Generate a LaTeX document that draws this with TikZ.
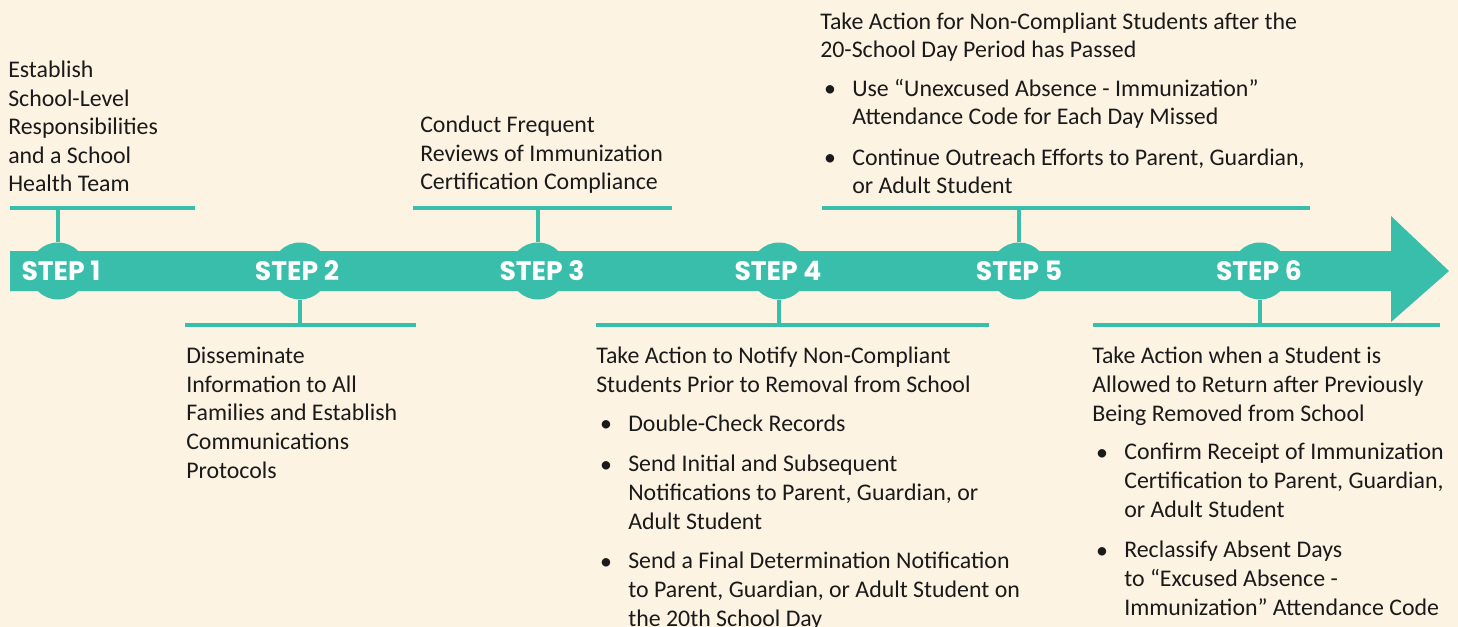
\documentclass[tikz,border=0pt]{standalone}
\usepackage{fontspec}
\usepackage{xcolor}
\usepackage{tikz}
\setmainfont{Carlito}
\newfontfamily\stepfont{Poppins}
\definecolor{stepteal}{RGB}{57,190,172}
\definecolor{cream}{RGB}{253,243,227}
\definecolor{inkgray}{RGB}{26,26,26}

\begin{document}
\begin{tikzpicture}[x=0.75pt,y=0.75pt,yscale=-1,xscale=1,
  stepdot/.style={circle,fill=stepteal,minimum size=42.75pt,inner sep=0pt},
  steplbl/.style={font=\stepfont\bfseries\fontsize{20}{20}\selectfont,text=white,inner sep=0.75pt},
  rulebar/.style={draw=stepteal,line width=3.4pt},
  blurb/.style={anchor=base west,align=left,inner sep=0pt,text=inkgray,font=\fontsize{17.9}{21.4}\selectfont},
  bul/.style={anchor=base,inner sep=0pt,text=inkgray,font=\fontsize{17.9}{21.4}\selectfont}]
%set diagram size
\useasboundingbox (0,0) rectangle (1458,627);
\fill[cream] (0,0) rectangle (1458,627);

%Arrow band
\fill[stepteal] (10,251) -- (1391,251) -- (1391,216) -- (1449,271) -- (1391,322) -- (1391,291) -- (10,291) -- cycle;

%Step circles
\node[stepdot] (s1) at (58,271) {};
\node[stepdot] (s2) at (300,271) {};
\node[stepdot] (s3) at (538,271) {};
\node[stepdot] (s4) at (779,271) {};
\node[stepdot] (s5) at (1019,271) {};
\node[stepdot] (s6) at (1260,271) {};

% Step labels
\node[steplbl] (t1) at (61,271) {STEP 1};
\node[steplbl] (t2) at (297,271) {STEP 2};
\node[steplbl] (t3) at (542,271) {STEP 3};
\node[steplbl] (t4) at (778,271) {STEP 4};
\node[steplbl] (t5) at (1019,271) {STEP 5};
\node[steplbl] (t6) at (1259,271) {STEP 6};

%Rules above and below
\coordinate (r1a) at (10,208);   \coordinate (r1b) at (195,208);  \coordinate (k1) at (58,208);
\coordinate (r2a) at (185,325);  \coordinate (r2b) at (416,325);  \coordinate (k2) at (300,325);
\coordinate (r3a) at (413,208);  \coordinate (r3b) at (672,208);  \coordinate (k3) at (538,208);
\coordinate (r4a) at (596,325);  \coordinate (r4b) at (989,325);  \coordinate (k4) at (779,325);
\coordinate (r5a) at (822,208);  \coordinate (r5b) at (1310,208); \coordinate (k5) at (1019,208);
\coordinate (r6a) at (1093,325); \coordinate (r6b) at (1440,325); \coordinate (k6) at (1260,325);
\draw[rulebar] (r1a) -- (r1b);
\draw[rulebar] (r2a) -- (r2b);
\draw[rulebar] (r3a) -- (r3b);
\draw[rulebar] (r4a) -- (r4b);
\draw[rulebar] (r5a) -- (r5b);
\draw[rulebar] (r6a) -- (r6b);
\draw[rulebar] (s1) -- (k1);
\draw[rulebar] (s2) -- (k2);
\draw[rulebar] (s3) -- (k3);
\draw[rulebar] (s4) -- (k4);
\draw[rulebar] (s5) -- (k5);
\draw[rulebar] (s6) -- (k6);

% Text Node (placed at baseline of last line)
\node[blurb] (b1) at (8,192) {Establish\\School-Level\\Responsibilities\\and a School\\Health Team};
% Text Node
\node[blurb] (b2) at (186,478) {Disseminate\\Information to All\\Families and Establish\\Communications\\Protocols};
% Text Node
\node[blurb] (b3) at (420,190) {Conduct Frequent\\Reviews of Immunization\\Certification Compliance};
% Text Node
\node[blurb] (b4) at (596,392) {Take Action to Notify Non-Compliant\\Students Prior to Removal from School};
\node[bul] (d4a) at (606,431) {•};
\node[blurb] (i4a) at (628,431) {Double-Check Records};
\node[bul] (d4b) at (606,472) {•};
\node[blurb] (i4b) at (628,529) {Send Initial and Subsequent\\Notifications to Parent, Guardian, or\\Adult Student};
\node[bul] (d4c) at (606,569) {•};
\node[blurb] (i4c) at (628,626) {Send a Final Determination Notification\\to Parent, Guardian, or Adult Student on\\the 20th School Day};
% Text Node
\node[blurb] (b5) at (820,58) {Take Action for Non-Compliant Students after the\\20-School Day Period has Passed};
\node[bul] (d5a) at (830,97) {•};
\node[blurb] (i5a) at (852,125) {Use “Unexcused Absence - Immunization”\\Attendance Code for Each Day Missed};
\node[bul] (d5b) at (830,166) {•};
\node[blurb] (i5b) at (852,194) {Continue Outreach Efforts to Parent, Guardian,\\or Adult Student};
% Text Node
\node[blurb] (b6) at (1092,421) {Take Action when a Student is\\Allowed to Return after Previously\\Being Removed from School};
\node[bul] (d6a) at (1102,460) {•};
\node[blurb] (i6a) at (1124,517) {Confirm Receipt of Immunization\\Certification to Parent, Guardian,\\or Adult Student};
\node[bul] (d6b) at (1102,558) {•};
\node[blurb] (i6b) at (1124,615) {Reclassify Absent Days\\to “Excused Absence -\\Immunization” Attendance Code};

\end{tikzpicture}
\end{document}
